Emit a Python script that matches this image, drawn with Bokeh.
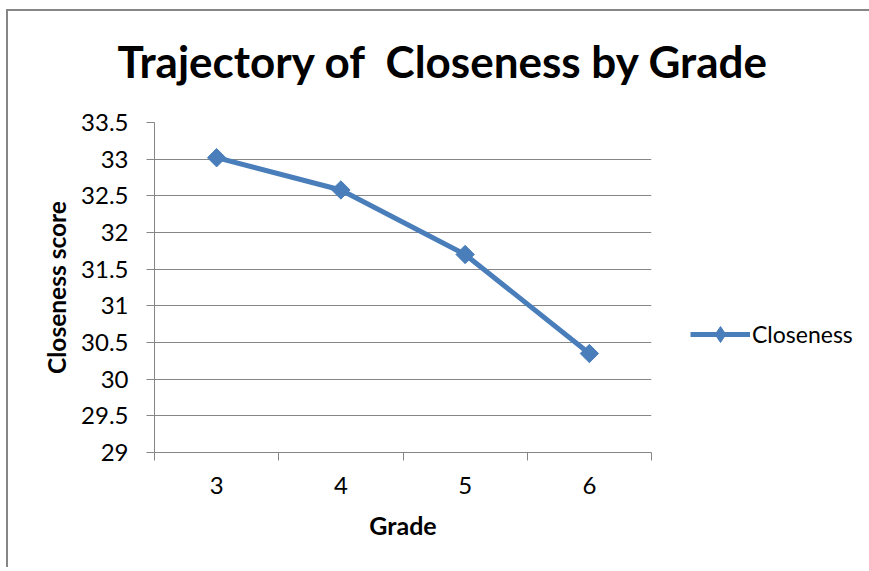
import numpy as np
from bokeh.plotting import figure
from bokeh.models import Range1d, FixedTicker, Legend, LegendItem, Title
from bokeh.embed import file_html
from bokeh.resources import INLINE

# ---- data ----
grades = [3, 4, 5, 6]
closeness = [33.02, 32.58, 31.70, 30.35]
x_tick_labels = ["3", "4", "5", "6"]
y_ticks = [29, 29.5, 30, 30.5, 31, 31.5, 32, 32.5, 33, 33.5]
y_tick_labels = ["29", "29.5", "30", "30.5", "31", "31.5", "32", "32.5", "33", "33.5"]
title_text = "Trajectory of \u00a0Closeness by Grade"
x_title = "Grade"
y_title = "Closeness score"
series_name = "Closeness"

FONT = "Lato"
BLUE = "#4A7EBB"
GRAY = "#868686"

# chart-area border (top and left edges) drawn as the element background
border_bg = ("linear-gradient(#868686,#868686) 0 9px / 100% 2px no-repeat, "
             "linear-gradient(#868686,#868686) 0 9px / 2px 100% no-repeat")

p = figure(frame_width=497, frame_height=330, output_backend="svg", toolbar_location=None,
           x_range=Range1d(grades[0] - 0.5, grades[-1] + 0.5),
           y_range=Range1d(y_ticks[0], y_ticks[-1]),
           min_border_left=148, min_border_right=212, min_border_top=122, min_border_bottom=115,
           styles={"margin-left": "6px", "background": border_bg})
p.outline_line_color = None
p.background_fill_color = "white"
p.border_fill_alpha = 0

# title
p.title = Title(text=title_text, align="left", offset=-37, vertical_align="top",
                standoff=68, text_font=FONT, text_font_size="44px",
                text_font_style="bold", text_color="black")

# x axis: category labels at centers, tick marks at boundaries
bounds = [g - 0.5 for g in grades] + [grades[-1] + 0.5]
p.xaxis.ticker = FixedTicker(ticks=grades, minor_ticks=bounds)
p.xaxis.major_label_overrides = {g: lab for g, lab in zip(grades, x_tick_labels)}
p.xaxis.major_tick_out = 0
p.xaxis.major_tick_in = 0
p.xaxis.minor_tick_out = 8
p.xaxis.minor_tick_in = 0
p.xaxis.minor_tick_line_color = GRAY
p.xaxis.axis_line_color = GRAY
p.xaxis.major_label_standoff = 16
p.xaxis.axis_label = x_title
p.xaxis.axis_label_standoff = 13

p.yaxis.ticker = FixedTicker(ticks=y_ticks, minor_ticks=[])
p.yaxis.major_label_overrides = {t: lab for t, lab in zip(y_ticks, y_tick_labels)}
p.yaxis.major_tick_out = 8
p.yaxis.major_tick_in = 0
p.yaxis.major_tick_line_color = GRAY
p.yaxis.axis_line_color = GRAY
p.yaxis.major_label_standoff = 18
p.yaxis.axis_label = y_title
p.yaxis.axis_label_standoff = 7

for ax in (p.xaxis, p.yaxis):
    ax.major_label_text_font = FONT
    ax.major_label_text_font_size = "24px"
    ax.major_label_text_color = "black"
    ax.axis_label_text_font = FONT
    ax.axis_label_text_font_style = "bold"
    ax.axis_label_text_color = "black"
p.xaxis.axis_label_text_font_size = "25px"
p.yaxis.axis_label_text_font_size = "24.5px"

p.xgrid.grid_line_color = None
p.ygrid.grid_line_color = GRAY
p.ygrid.grid_line_width = 1

line_r = p.line(x=grades, y=closeness, line_color=BLUE, line_width=5)
# diamond key for the legend (sits hidden beneath the plotted markers)
key_r = p.scatter(x=grades, y=closeness, marker="diamond", size=8,
                  fill_color=BLUE, line_color=BLUE)
pts_r = p.scatter(x=grades, y=closeness, marker="square", angle=np.pi / 4, size=13,
                  fill_color=BLUE, line_color=BLUE)

legend = Legend(items=[LegendItem(label=series_name, renderers=[line_r, key_r])],
                location=(39, 98), border_line_color=None, background_fill_alpha=0,
                padding=0, margin=0, glyph_width=60, glyph_height=40, label_standoff=2,
                label_text_font=FONT, label_text_font_size="23px", label_text_color="black")
p.add_layout(legend, "right")

open("out.html", "w").write(file_html(p, INLINE))
